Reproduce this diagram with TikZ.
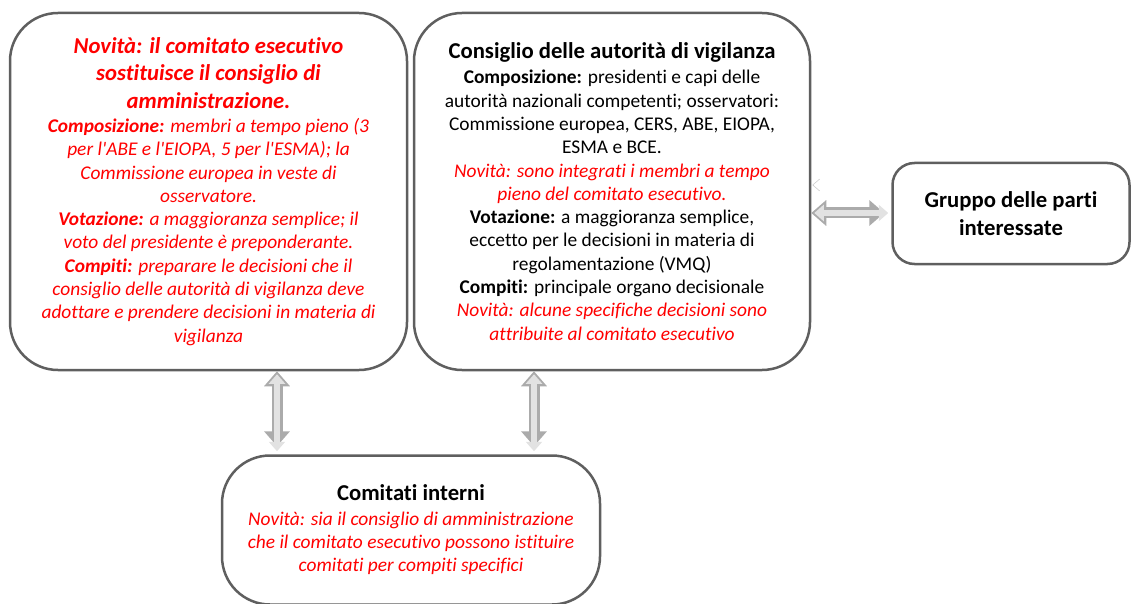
\documentclass[tikz,border=0pt]{standalone}
\usepackage{fontspec}
\setmainfont{Carlito}[Ligatures={NoCommon}]
\usepackage{xcolor}
\usepackage{tikz}
\usetikzlibrary{positioning, calc, arrows.meta}

\definecolor{boxline}{HTML}{5F5F5F}
\definecolor{arrline}{HTML}{ABABAB}
\definecolor{arrfill}{HTML}{E2E2E2}
\definecolor{novred}{HTML}{FF0000}

\newcommand{\body}{\fontsize{19.4}{23.3}\selectfont}
\newcommand{\head}{\fontsize{22.7}{27}\selectfont\bfseries}
\newcommand{\nov}[1]{{\color{novred}\itshape #1}}
\newcommand{\apo}{\textquotesingle}

\tikzset{
	orgbox/.style={draw=boxline, line width=2.5pt, rounded corners=48pt, fill=white, align=center, inner sep=0pt, font=\body},
	dblarrow/.style={line width=11pt, draw=arrline,
		{Triangle[width=25pt,length=15pt]}-{Triangle[width=25pt,length=15pt]},
		postaction={draw=arrfill, line width=6.5pt, shorten <=3pt, shorten >=3pt,
			{Triangle[width=16pt,length=9.5pt]}-{Triangle[width=16pt,length=9.5pt]}}}
}

\begin{document}
\begin{tikzpicture}[x=1pt, y=-1pt]
			\useasboundingbox (0,0) rectangle (1132,604);
			
			\node[orgbox, minimum width=397pt, minimum height=357pt](adm) at (208.5,191.5) {{\head\nov{Novità: il comitato esecutivo}}\\[4pt] {\head\nov{sostituisce il consiglio di}}\\[4pt] {\head\nov{amministrazione.}}\\[1pt]
				\nov{\textbf{Composizione:} membri a tempo pieno (3}\\ \nov{per l\apo ABE e l\apo EIOPA, 5 per l\apo ESMA); la}\\ \nov{Commissione europea in veste di}\\ \nov{osservatore.}\\
				\nov{\textbf{Votazione:} a maggioranza semplice; il}\\ \nov{voto del presidente è preponderante.}\\
				\nov{\textbf{Compiti:} preparare le decisioni che il}\\ \nov{consiglio delle autorità di vigilanza deve}\\ \nov{adottare e prendere decisioni in materia di}\\ \nov{vigilanza}};
			
			\node[orgbox, minimum width=396pt, minimum height=357pt](bos) at (612,191.5) {{\head Consiglio delle autorità di vigilanza}\\[2pt]
				\textbf{Composizione:} presidenti e capi delle\\ autorità nazionali competenti; osservatori:\\ Commissione europea, CERS, ABE, EIOPA,\\ ESMA e BCE.\\
				\nov{Novità: sono integrati i membri a tempo}\\ \nov{pieno del comitato esecutivo.}\\
				\textbf{Votazione:} a maggioranza semplice,\\ eccetto per le decisioni in materia di\\ regolamentazione (VMQ)\\
				\textbf{Compiti:} principale organo decisionale\\
				\nov{Novità: alcune specifiche decisioni sono}\\ \nov{attribuite al comitato esecutivo}};
			
			\node[orgbox, rounded corners=22pt, minimum width=237pt, minimum height=101pt, font=\head](spg) at (1011,213.5) {Gruppo delle parti\\[1pt] interessate};
			
			\node[orgbox, minimum width=378pt, minimum height=149pt](com) at (411,530) {{\head Comitati interni}\\[1pt]
				\nov{Novità: sia il consiglio di amministrazione}\\ \nov{che il comitato esecutivo possono istituire}\\ \nov{comitati per compiti specifici}};
			
			%% connectors
			\coordinate (a1) at (277,0);
			\coordinate (a2) at (534,0);
			\coordinate (a3) at (0,213);
			\draw[dblarrow, shorten >=8pt] (adm.south -| a1) -- (com.north -| a1);
			\draw[dblarrow, shorten >=8pt] (bos.south -| a2) -- (com.north -| a2);
			\draw[dblarrow, shorten >=7pt] (bos.east |- a3) -- (spg.west |- a3);
			
			%% stray tip left over on the right side
			\coordinate (a4) at (0,185);
			\draw[draw=arrline!60, line width=0.6pt, {Straight Barb[length=7pt,width=12pt]}-] ([xshift=1pt]bos.east |- a4) -- ++(1,0);
			
\end{tikzpicture}
\end{document}
